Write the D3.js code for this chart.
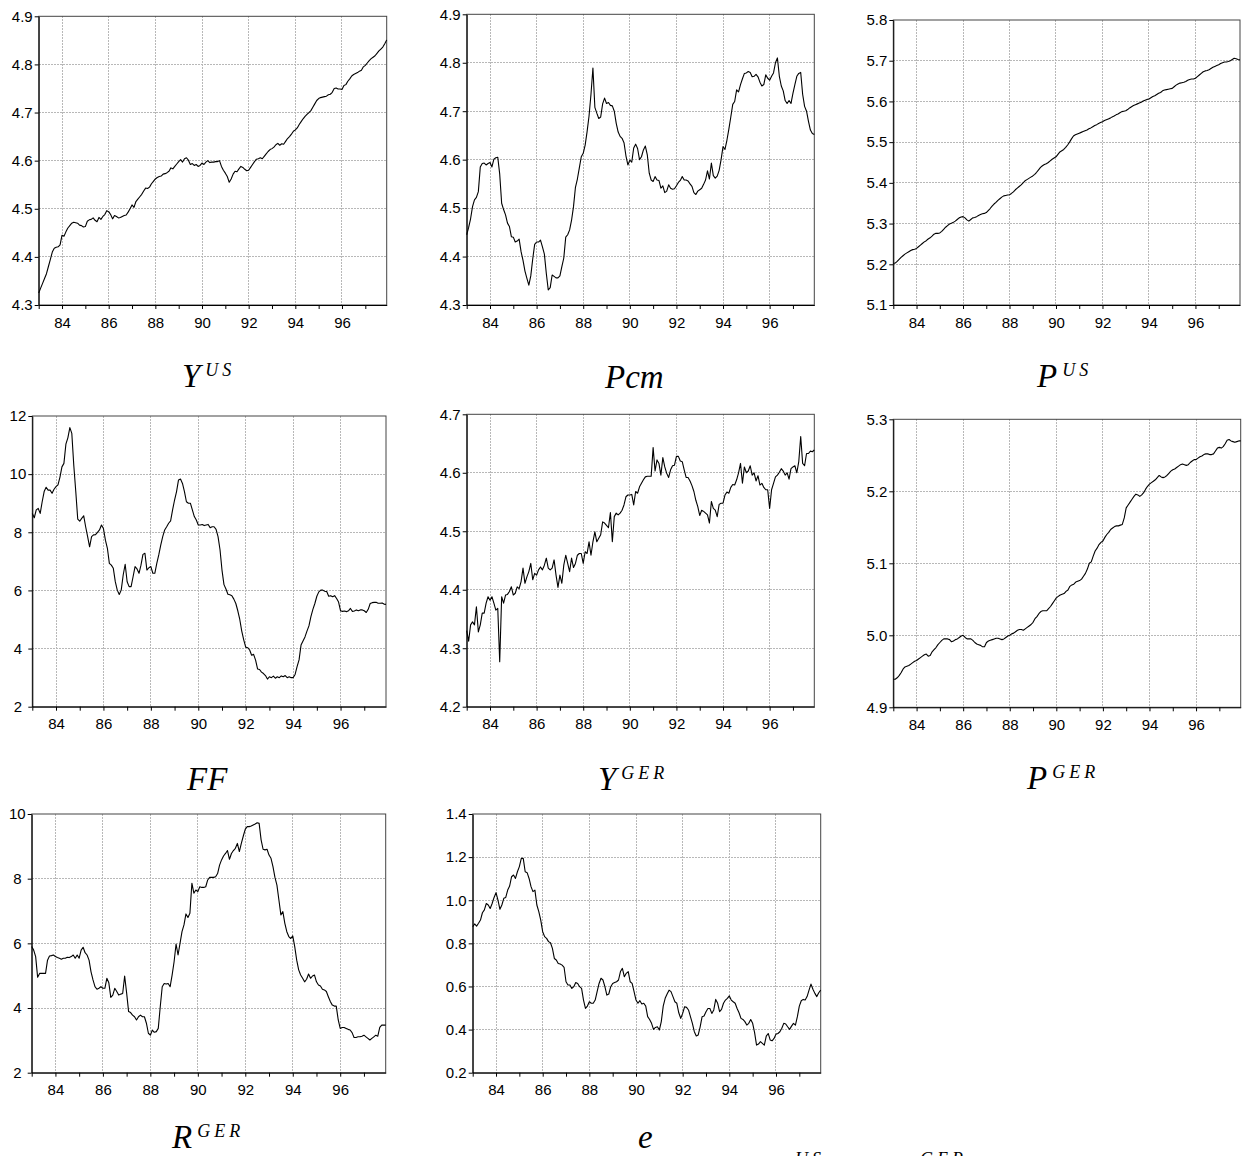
<!DOCTYPE html>
<html lang="en">
<head>
<meta charset="utf-8">
<title>Monthly series 1983-1997</title>
<script src="https://d3js.org/d3.v7.min.js"></script>
<style>
body { margin: 0; background: #fff; }
svg { display: block; }
.tick text { font-family: "Liberation Sans", Arial, sans-serif; font-size: 15px; fill: #000; }
.tick line, .domain { stroke: #000; }
.grid line { stroke: #b8b8b8; stroke-dasharray: 2,1; shape-rendering: crispEdges; }
.title { font-family: "Liberation Serif", "Times New Roman", serif; font-style: italic; fill: #000; }
</style>
</head>
<body>
<svg id="chart" width="1250" height="1156"></svg>
<script>
// monthly data, 1983:01 - 1997:12
const startYear = 1983;
const yearTicks = [1983, 1984, 1985, 1986, 1987, 1988, 1989, 1990, 1991, 1992, 1993, 1994, 1995, 1996, 1997];
const labelYears = [1984, 1986, 1988, 1990, 1992, 1994, 1996];

const yUS = [
  4.325, 4.335, 4.345, 4.355, 4.365, 4.38, 4.395, 4.41, 4.418, 4.42, 4.421, 4.425,
  4.445, 4.443, 4.452, 4.46, 4.465, 4.47, 4.472, 4.471, 4.47, 4.466, 4.465, 4.462,
  4.463, 4.474, 4.477, 4.478, 4.481, 4.476, 4.473, 4.482, 4.478, 4.484, 4.488, 4.496,
  4.494, 4.488, 4.479, 4.486, 4.484, 4.481, 4.482, 4.484, 4.486, 4.487, 4.493, 4.5,
  4.508, 4.503, 4.515, 4.52, 4.525, 4.53, 4.537, 4.543, 4.542, 4.545, 4.552, 4.557,
  4.562, 4.565, 4.567, 4.568, 4.572, 4.573, 4.575, 4.578, 4.585, 4.583, 4.588, 4.593,
  4.598, 4.602, 4.597, 4.604, 4.606, 4.601, 4.592, 4.594, 4.59, 4.592, 4.588, 4.59,
  4.595, 4.592, 4.597, 4.6, 4.596, 4.597, 4.597, 4.598, 4.598, 4.6, 4.588, 4.58,
  4.574, 4.567, 4.555, 4.562, 4.572, 4.578, 4.577, 4.583, 4.588, 4.586, 4.582, 4.579,
  4.58, 4.586, 4.592, 4.598, 4.603, 4.604, 4.606, 4.604, 4.609, 4.614, 4.619, 4.623,
  4.625, 4.628, 4.633, 4.636, 4.632, 4.635, 4.634, 4.64, 4.646, 4.65, 4.655, 4.661,
  4.664, 4.668, 4.675, 4.681, 4.687, 4.692, 4.696, 4.7, 4.704, 4.711, 4.718, 4.725,
  4.729, 4.731, 4.732, 4.733, 4.734, 4.737, 4.738, 4.742, 4.75, 4.751, 4.749, 4.749,
  4.748, 4.756, 4.758, 4.765, 4.77, 4.776, 4.779, 4.781, 4.783, 4.786, 4.788, 4.795,
  4.798, 4.803, 4.808, 4.812, 4.815, 4.818, 4.823, 4.828, 4.832, 4.836, 4.843, 4.851
];

const pcm = [
  4.445, 4.46, 4.478, 4.503, 4.517, 4.522, 4.534, 4.585, 4.592, 4.593, 4.589, 4.592,
  4.594, 4.585, 4.601, 4.604, 4.605, 4.57, 4.51, 4.497, 4.486, 4.469, 4.462, 4.441,
  4.44, 4.43, 4.432, 4.436, 4.41, 4.392, 4.37, 4.355, 4.341, 4.36, 4.395, 4.425,
  4.43, 4.43, 4.434, 4.42, 4.405, 4.365, 4.331, 4.336, 4.362, 4.359, 4.356, 4.356,
  4.36, 4.379, 4.397, 4.44, 4.445, 4.455, 4.475, 4.503, 4.543, 4.56, 4.583, 4.606,
  4.613, 4.63, 4.658, 4.69, 4.735, 4.789, 4.708, 4.696, 4.685, 4.688, 4.715, 4.727,
  4.716, 4.718, 4.712, 4.711, 4.7, 4.675, 4.657, 4.648, 4.644, 4.635, 4.608, 4.589,
  4.599, 4.595, 4.624, 4.632, 4.623, 4.6, 4.606, 4.62, 4.628, 4.61, 4.572, 4.558,
  4.555, 4.565, 4.558, 4.557, 4.541, 4.546, 4.532, 4.535, 4.548, 4.541, 4.539, 4.54,
  4.546, 4.553, 4.557, 4.565, 4.558, 4.558, 4.556, 4.55, 4.545, 4.532, 4.528, 4.535,
  4.538, 4.541, 4.549, 4.558, 4.577, 4.56, 4.593, 4.567, 4.562, 4.566, 4.578, 4.6,
  4.627, 4.621, 4.64, 4.663, 4.688, 4.714, 4.72, 4.744, 4.74, 4.755, 4.767, 4.778,
  4.779, 4.782, 4.78, 4.771, 4.772, 4.776, 4.771, 4.76, 4.752, 4.755, 4.775, 4.768,
  4.764, 4.772, 4.779, 4.8, 4.81, 4.772, 4.752, 4.742, 4.722, 4.716, 4.722, 4.716,
  4.737, 4.755, 4.772, 4.778, 4.78, 4.735, 4.71, 4.7, 4.679, 4.661, 4.654, 4.652
];

const pUS = [
  5.202, 5.203, 5.207, 5.212, 5.217, 5.221, 5.225, 5.228, 5.231, 5.234, 5.236, 5.237,
  5.239, 5.243, 5.247, 5.251, 5.255, 5.258, 5.262, 5.265, 5.269, 5.274, 5.276, 5.276,
  5.277, 5.281, 5.286, 5.291, 5.295, 5.299, 5.301, 5.303, 5.306, 5.31, 5.314, 5.316,
  5.317, 5.314, 5.309, 5.306, 5.31, 5.314, 5.315, 5.317, 5.32, 5.322, 5.324, 5.325,
  5.327, 5.332, 5.337, 5.343, 5.348, 5.352, 5.357, 5.361, 5.365, 5.368, 5.369, 5.37,
  5.371, 5.374, 5.378, 5.383, 5.387, 5.391, 5.395, 5.4, 5.405, 5.408, 5.411, 5.414,
  5.417, 5.421, 5.426, 5.432, 5.438, 5.442, 5.445, 5.447, 5.45, 5.454, 5.458, 5.461,
  5.464, 5.47, 5.476, 5.479, 5.482, 5.487, 5.493, 5.5, 5.508, 5.515, 5.518, 5.52,
  5.522, 5.524, 5.526, 5.528, 5.53, 5.533, 5.535, 5.538, 5.541, 5.543, 5.546, 5.548,
  5.55, 5.553, 5.555, 5.557, 5.559, 5.562, 5.564, 5.567, 5.569, 5.572, 5.575, 5.576,
  5.577, 5.58, 5.584, 5.587, 5.59, 5.592, 5.594, 5.596, 5.598, 5.601, 5.603, 5.605,
  5.606, 5.609, 5.612, 5.614, 5.617, 5.62, 5.622, 5.626, 5.628, 5.629, 5.63, 5.631,
  5.632, 5.636, 5.64, 5.643, 5.645, 5.646, 5.647, 5.649, 5.652, 5.654, 5.655, 5.655,
  5.657, 5.661, 5.665, 5.669, 5.673, 5.675, 5.676, 5.678, 5.681, 5.684, 5.686, 5.688,
  5.69, 5.693, 5.695, 5.697, 5.697, 5.698, 5.7, 5.703, 5.706, 5.705, 5.703, 5.702
];

const ff = [
  8.65, 8.5, 8.77, 8.82, 8.65, 9.05, 9.4, 9.55, 9.45, 9.45, 9.34, 9.48,
  9.57, 9.63, 9.9, 10.25, 10.37, 11.03, 11.25, 11.6, 11.4, 10.3, 9.4, 8.45,
  8.38, 8.48, 8.57, 8.19, 7.85, 7.5, 7.85, 7.91, 7.92, 8.0, 8.08, 8.25,
  8.13, 7.73, 7.45, 6.93, 6.87, 6.76, 6.3, 6.01, 5.86, 6.01, 6.53, 6.9,
  6.3, 6.13, 6.13, 6.47, 6.82, 6.74, 6.59, 6.87, 7.24, 7.28, 6.7, 6.78,
  6.82, 6.59, 6.59, 6.93, 7.22, 7.56, 7.85, 8.08, 8.19, 8.31, 8.39, 8.77,
  9.11, 9.4, 9.8, 9.83, 9.68, 9.4, 9.05, 9.0, 9.0, 8.77, 8.54, 8.42,
  8.25, 8.25, 8.27, 8.23, 8.25, 8.27, 8.16, 8.19, 8.19, 8.1, 7.85, 7.4,
  6.7, 6.2, 6.05, 5.87, 5.85, 5.82, 5.7, 5.55, 5.3, 5.0, 4.6, 4.3,
  4.05, 4.03, 3.95, 3.77, 3.8, 3.6, 3.3, 3.28, 3.19, 3.14, 3.07, 2.95,
  3.03, 3.0, 3.05, 2.98, 3.03, 3.0, 3.06, 3.03, 3.07, 3.0, 3.03, 3.0,
  3.0, 3.11, 3.38, 3.61, 4.12, 4.26, 4.4, 4.6, 4.78, 5.1, 5.35, 5.55,
  5.8, 5.95, 6.01, 6.01, 5.97, 5.96, 5.8, 5.82, 5.78, 5.82, 5.72, 5.6,
  5.3, 5.28, 5.29, 5.27, 5.3, 5.38, 5.28, 5.29, 5.33, 5.3, 5.33, 5.33,
  5.3, 5.24, 5.35, 5.55, 5.58, 5.59, 5.59, 5.56, 5.56, 5.57, 5.53, 5.52
];

const yGER = [
  4.33, 4.312, 4.34, 4.345, 4.34, 4.371, 4.328, 4.34, 4.36, 4.36, 4.377, 4.388,
  4.382, 4.388, 4.377, 4.365, 4.368, 4.277, 4.388, 4.377, 4.391, 4.392, 4.397, 4.405,
  4.391, 4.394, 4.405, 4.402, 4.414, 4.437, 4.411, 4.422, 4.431, 4.445, 4.417, 4.428,
  4.425, 4.434, 4.439, 4.434, 4.442, 4.454, 4.437, 4.434, 4.437, 4.451, 4.425, 4.404,
  4.425, 4.411, 4.442, 4.459, 4.445, 4.431, 4.454, 4.438, 4.445, 4.459, 4.462, 4.462,
  4.445, 4.465, 4.462, 4.482, 4.459, 4.482, 4.499, 4.482, 4.488, 4.494, 4.516, 4.514,
  4.51, 4.506, 4.532, 4.482, 4.525, 4.531, 4.528, 4.531, 4.536, 4.545, 4.559, 4.562,
  4.562, 4.563, 4.545, 4.568, 4.565, 4.576, 4.582, 4.588, 4.593, 4.594, 4.594, 4.594,
  4.643, 4.603, 4.622, 4.616, 4.596, 4.626, 4.61, 4.599, 4.592, 4.605, 4.612, 4.613,
  4.628, 4.628, 4.62, 4.619, 4.605, 4.592, 4.592, 4.586, 4.578, 4.568, 4.553, 4.542,
  4.527, 4.536, 4.534, 4.531, 4.528, 4.514, 4.551, 4.539, 4.536, 4.525, 4.546, 4.548,
  4.548, 4.562, 4.567, 4.565, 4.575, 4.58, 4.579, 4.588, 4.6, 4.616, 4.582, 4.61,
  4.6, 4.603, 4.612, 4.596, 4.6, 4.586, 4.595, 4.579, 4.582, 4.575, 4.571, 4.571,
  4.539, 4.571, 4.582, 4.593, 4.596, 4.601, 4.607, 4.603, 4.596, 4.6, 4.589, 4.607,
  4.61, 4.612, 4.6, 4.619, 4.662, 4.616, 4.612, 4.633, 4.633, 4.637, 4.636, 4.639
];

const pGER = [
  4.939, 4.939, 4.941, 4.944, 4.948, 4.953, 4.956, 4.957, 4.958, 4.96, 4.962, 4.964,
  4.965, 4.967, 4.969, 4.971, 4.973, 4.974, 4.971, 4.972, 4.977, 4.98, 4.983, 4.987,
  4.99, 4.993, 4.995, 4.995, 4.995, 4.994, 4.991, 4.992, 4.994, 4.995, 4.997, 4.999,
  5.0, 4.997, 4.995, 4.995, 4.995, 4.993, 4.99, 4.988, 4.987, 4.986, 4.984, 4.984,
  4.99, 4.992, 4.993, 4.994, 4.995, 4.996, 4.996, 4.995, 4.994, 4.995, 4.997, 4.999,
  5.0, 5.002, 5.003, 5.005, 5.007, 5.008, 5.008, 5.007, 5.009, 5.011, 5.013, 5.015,
  5.018, 5.023, 5.026, 5.03, 5.033, 5.034, 5.034, 5.034, 5.037, 5.04, 5.044, 5.048,
  5.052, 5.054, 5.056, 5.057, 5.058, 5.061, 5.063, 5.068, 5.07, 5.071, 5.074, 5.075,
  5.076, 5.078, 5.082, 5.086, 5.092, 5.1, 5.102, 5.11, 5.117, 5.121, 5.126, 5.129,
  5.131, 5.136, 5.14, 5.143, 5.147, 5.149, 5.151, 5.152, 5.152, 5.153, 5.154, 5.163,
  5.177, 5.181, 5.185, 5.189, 5.193, 5.196, 5.195, 5.193, 5.195, 5.198, 5.203, 5.207,
  5.21, 5.212, 5.214, 5.216, 5.219, 5.222, 5.22, 5.219, 5.22, 5.222, 5.225, 5.228,
  5.23, 5.231, 5.233, 5.235, 5.237, 5.238, 5.237, 5.236, 5.237, 5.24, 5.242, 5.244,
  5.244, 5.246, 5.248, 5.249, 5.251, 5.252, 5.252, 5.251, 5.251, 5.252, 5.256, 5.26,
  5.261, 5.26, 5.262, 5.266, 5.271, 5.272, 5.27, 5.269, 5.268, 5.269, 5.27, 5.27
];

const rGER = [
  5.9, 5.79, 5.59, 4.95, 5.07, 5.07, 5.07, 5.07, 5.48, 5.61, 5.62, 5.64,
  5.59, 5.56, 5.54, 5.51, 5.54, 5.54, 5.57, 5.56, 5.59, 5.64, 5.54, 5.64,
  5.54, 5.79, 5.88, 5.71, 5.64, 5.48, 5.12, 4.87, 4.66, 4.58, 4.61, 4.66,
  4.61, 4.61, 4.92, 4.78, 4.33, 4.4, 4.61, 4.51, 4.4, 4.43, 4.45, 4.99,
  4.47, 3.89, 3.86, 3.78, 3.73, 3.63, 3.73, 3.78, 3.73, 3.73, 3.53, 3.22,
  3.16, 3.32, 3.25, 3.27, 3.37, 4.04, 4.66, 4.76, 4.74, 4.76, 4.66, 5.02,
  5.43, 5.98, 5.64, 6.0, 6.36, 6.57, 6.91, 6.8, 6.93, 7.86, 7.55, 7.65,
  7.6, 7.75, 7.73, 7.73, 7.75, 7.96, 8.04, 8.04, 8.04, 8.06, 8.16, 8.42,
  8.58, 8.7, 8.78, 8.87, 8.6, 8.78, 8.87, 8.94, 9.09, 8.84, 9.09, 9.32,
  9.53, 9.61, 9.61, 9.63, 9.66, 9.69, 9.73, 9.71, 9.2, 8.91, 8.89, 8.91,
  8.73, 8.63, 8.37, 8.04, 7.8, 7.34, 6.88, 6.98, 6.62, 6.36, 6.21, 6.15,
  6.23, 5.9, 5.48, 5.18, 5.02, 4.92, 4.81, 4.89, 5.05, 4.92, 4.99, 5.02,
  4.81, 4.71, 4.68, 4.58, 4.56, 4.51, 4.35, 4.2, 4.09, 4.06, 4.06, 3.63,
  3.37, 3.4, 3.4, 3.37, 3.34, 3.32, 3.24, 3.09, 3.09, 3.11, 3.11, 3.13,
  3.16, 3.11, 3.06, 3.01, 3.06, 3.11, 3.16, 3.13, 3.4, 3.47, 3.47, 3.47
];

const eRate = [
  0.877, 0.89, 0.88, 0.893, 0.908, 0.942, 0.955, 0.985, 0.978, 0.962, 0.985, 1.013,
  1.035, 1.001, 0.958, 0.978, 1.009, 1.013, 1.047, 1.066, 1.109, 1.117, 1.101, 1.132,
  1.156, 1.194, 1.194, 1.132, 1.128, 1.101, 1.063, 1.04, 1.047, 0.978, 0.947, 0.908,
  0.854, 0.831, 0.823, 0.808, 0.803, 0.777, 0.73, 0.723, 0.707, 0.704, 0.699, 0.689,
  0.622, 0.607, 0.607, 0.591, 0.599, 0.618, 0.614, 0.599, 0.591, 0.537, 0.498, 0.509,
  0.529, 0.522, 0.522, 0.537, 0.576, 0.614, 0.638, 0.63, 0.599, 0.56, 0.565, 0.599,
  0.614, 0.618, 0.622, 0.63, 0.669, 0.684, 0.645, 0.661, 0.669, 0.622, 0.614, 0.576,
  0.537, 0.522, 0.534, 0.519, 0.522, 0.509, 0.46, 0.447, 0.429, 0.401, 0.41, 0.413,
  0.398, 0.437, 0.509, 0.545, 0.565, 0.583, 0.576, 0.553, 0.529, 0.522, 0.478, 0.452,
  0.475, 0.506, 0.503, 0.491, 0.46, 0.429, 0.39, 0.37, 0.375, 0.413, 0.46, 0.463,
  0.483, 0.498, 0.498, 0.475, 0.491, 0.54, 0.522, 0.483, 0.494, 0.522, 0.537, 0.545,
  0.556, 0.537, 0.529, 0.522, 0.498, 0.478, 0.452, 0.447, 0.437, 0.421, 0.429, 0.447,
  0.429, 0.386, 0.328, 0.333, 0.344, 0.336, 0.328, 0.37, 0.382, 0.352, 0.348, 0.359,
  0.379, 0.382, 0.39, 0.406, 0.429, 0.426, 0.413, 0.401, 0.416, 0.429, 0.421, 0.46,
  0.509, 0.534, 0.54, 0.537, 0.553, 0.583, 0.611, 0.587, 0.568, 0.553, 0.571, 0.583
];

// y tick values per panel
const ticksYUS  = [4.3, 4.4, 4.5, 4.6, 4.7, 4.8, 4.9];
const ticksPcm  = [4.3, 4.4, 4.5, 4.6, 4.7, 4.8, 4.9];
const ticksPUS  = [5.1, 5.2, 5.3, 5.4, 5.5, 5.6, 5.7, 5.8];
const ticksFF   = [2, 4, 6, 8, 10, 12];
const ticksYGER = [4.2, 4.3, 4.4, 4.5, 4.6, 4.7];
const ticksPGER = [4.9, 5.0, 5.1, 5.2, 5.3];
const ticksRGER = [2, 4, 6, 8, 10];
const ticksE    = [0.2, 0.4, 0.6, 0.8, 1.0, 1.2, 1.4];

const months = d3.range(yUS.length).map(i => startYear + i / 12);
const svg = d3.select("#chart");

// box = [left, top, right, bottom]
const panels = [
  {values: yUS,   ticks: ticksYUS,  fmt: ".1f", box: [38.7, 16.3, 386.7, 305],   main: "Y",   sup: "US",  tx: 182,  ty: 387},
  {values: pcm,   ticks: ticksPcm,  fmt: ".1f", box: [466.7, 14.3, 814.3, 305],  main: "Pcm", sup: "",    tx: 605,  ty: 388},
  {values: pUS,   ticks: ticksPUS,  fmt: ".1f", box: [893.3, 20, 1240, 305],     main: "P",   sup: "US",  tx: 1037, ty: 387},
  {values: ff,    ticks: ticksFF,   fmt: "d",   box: [32.3, 416, 386, 706.7],    main: "FF",  sup: "",    tx: 187,  ty: 790},
  {values: yGER,  ticks: ticksYGER, fmt: ".1f", box: [466.7, 414.3, 814.3, 706.7], main: "Y", sup: "GER", tx: 598,  ty: 790},
  {values: pGER,  ticks: ticksPGER, fmt: ".1f", box: [893.3, 419.3, 1240.7, 707.3], main: "P", sup: "GER", tx: 1027, ty: 789},
  {values: rGER,  ticks: ticksRGER, fmt: "d",   box: [31.7, 814, 385.7, 1072.7], main: "R",   sup: "GER", tx: 172,  ty: 1148},
  {values: eRate, ticks: ticksE,    fmt: ".1f", box: [472.7, 814, 820.7, 1072.7], main: "e",  sup: "",    tx: 638,  ty: 1148}
];

function drawPanel(p) {
  const [x0, y0, x1, y1] = p.box;
  const x = d3.scaleLinear().domain([startYear, months[months.length - 1]]).range([x0, x1]);
  const y = d3.scaleLinear().domain(d3.extent(p.ticks)).range([y1, y0]);
  const g = svg.append("g");

  g.append("g").attr("class", "grid")
    .selectAll("line").data(labelYears).join("line")
    .attr("x1", d => x(d)).attr("x2", d => x(d)).attr("y1", y0).attr("y2", y1);
  g.append("g").attr("class", "grid")
    .selectAll("line").data(p.ticks.slice(1, -1)).join("line")
    .attr("x1", x0).attr("x2", x1).attr("y1", d => y(d)).attr("y2", d => y(d));

  g.append("rect")
    .attr("x", x0).attr("y", y0).attr("width", x1 - x0).attr("height", y1 - y0)
    .attr("fill", "none").attr("stroke", "#444");

  g.append("path").datum(p.values)
    .attr("fill", "none").attr("stroke", "#000").attr("stroke-width", 1.1)
    .attr("stroke-linejoin", "round")
    .attr("d", d3.line().x((d, i) => x(months[i])).y(d => y(d)));

  g.append("g").attr("transform", `translate(0,${y1})`)
    .call(d3.axisBottom(x).tickValues(yearTicks).tickSize(4).tickSizeOuter(0).tickPadding(8)
      .tickFormat(d => labelYears.includes(d) ? d3.format("02d")(d % 100) : ""));

  const yAxis = g.append("g").attr("transform", `translate(${x0},0)`)
    .call(d3.axisLeft(y).tickValues(p.ticks).tickSize(4).tickSizeOuter(0).tickPadding(2)
      .tickFormat(d3.format(p.fmt)));

  // labels of unequal width sit centred in one column
  const labels = yAxis.selectAll(".tick text");
  const w = d3.max(labels.nodes(), n => n.getComputedTextLength());
  labels.attr("text-anchor", "middle").attr("x", -(6 + w / 2));

  const t = svg.append("text").attr("class", "title").attr("x", p.tx).attr("y", p.ty);
  t.append("tspan").attr("font-size", 33).text(p.main);
  if (p.sup) {
    t.append("tspan").attr("font-size", 18).attr("dx", 5).attr("dy", -11)
      .attr("letter-spacing", 4).text(p.sup);
  }
}

panels.forEach(drawPanel);

// start of the next caption line, cut by the page edge
const cut = svg.append("text").attr("class", "title").attr("y", 1165).attr("font-size", 18).attr("letter-spacing", 4);
cut.append("tspan").attr("x", 795).text("US");
cut.append("tspan").attr("x", 920).text("GER");
</script>
</body>
</html>
